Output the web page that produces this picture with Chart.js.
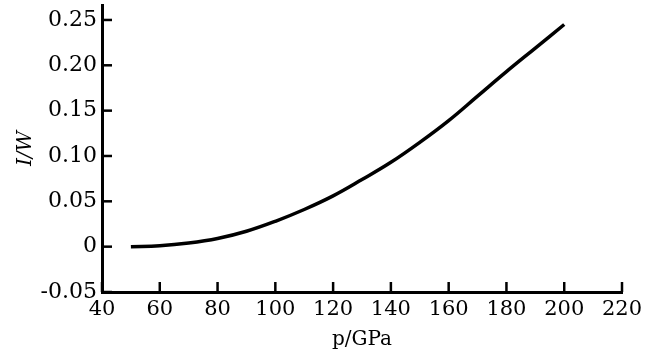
<!DOCTYPE html>
<html>
<head>
<meta charset="utf-8">
<script src="https://cdn.jsdelivr.net/npm/chart.js@4"></script>
<style>
  html, body { margin: 0; padding: 0; background: #fff; }
  #wrap { width: 655px; height: 356px; }
</style>
</head>
<body>
<div id="wrap"><canvas id="lineChart"></canvas></div>
<script>
// data
const pressure = [50, 60, 70, 80, 90, 100, 110, 120, 130, 140, 150, 160, 170, 180, 190, 200];
const intensity = [0, 0.001, 0.004, 0.009, 0.017, 0.028, 0.041, 0.056, 0.074, 0.093, 0.115, 0.139, 0.166, 0.193, 0.219, 0.245];
const xTicks = [40, 60, 80, 100, 120, 140, 160, 180, 200, 220];
const yTicks = [-0.05, 0, 0.05, 0.10, 0.15, 0.20, 0.25];
const yTickLabels = ["-0.05", "0", "0.05", "0.10", "0.15", "0.20", "0.25"];

const FONT = "'DejaVu Serif', 'Liberation Serif', serif";

// inward tick marks, placed through the scales
const innerTicks = {
  id: "innerTicks",
  afterDraw(chart) {
    const ctx = chart.ctx;
    const xs = chart.scales.x, ys = chart.scales.y;
    const area = chart.chartArea;
    ctx.save();
    ctx.strokeStyle = "#000";
    ctx.lineWidth = 2.5;
    for (const v of xTicks) {
      const px = xs.getPixelForValue(v);
      ctx.beginPath();
      ctx.moveTo(px, area.bottom);
      ctx.lineTo(px, area.bottom - 10);
      ctx.stroke();
    }
    for (const v of yTicks) {
      const py = ys.getPixelForValue(v);
      ctx.beginPath();
      ctx.moveTo(area.left, py);
      ctx.lineTo(area.left + 10, py);
      ctx.stroke();
    }
    ctx.restore();
  }
};

const line = document.getElementById("lineChart");

new Chart(line, {
  type: "line",
  data: {
    datasets: [{
      data: pressure.map((p, i) => ({ x: p, y: intensity[i] })),
      borderColor: "#000",
      borderWidth: 3.5,
      pointRadius: 0,
      fill: false,
      tension: 0.4
    }]
  },
  options: {
    responsive: true,
    maintainAspectRatio: false,
    animation: false,
    layout: { padding: { left: 10, right: 33, top: 5, bottom: 0 } },
    plugins: { legend: { display: false }, tooltip: { enabled: false } },
    scales: {
      x: {
        type: "linear",
        min: 40,
        max: 220,
        afterBuildTicks: s => { s.ticks = xTicks.map(v => ({ value: v })); },
        afterFit: s => { s.height = 64; },
        grid: { display: false, drawTicks: false },
        border: { color: "#000", width: 3 },
        ticks: {
          color: "#000",
          padding: 5,
          maxRotation: 0,
          font: { family: FONT, size: 21 }
        },
        title: {
          display: true,
          text: "p/GPa",
          color: "#000",
          font: { family: FONT, size: 20 },
          padding: { top: 0, bottom: 4 }
        }
      },
      y: {
        min: -0.05,
        max: 0.2665,
        afterBuildTicks: s => { s.ticks = yTicks.map(v => ({ value: v })); },
        afterFit: s => { s.width = 92; s.paddingTop = 0; s.paddingBottom = 0; },
        grid: { display: false, drawTicks: false },
        border: { color: "#000", width: 3 },
        ticks: {
          color: "#000",
          padding: 5,
          font: { family: FONT, size: 22 },
          callback: (v) => {
            const i = yTicks.findIndex(t => Math.abs(t - v) < 1e-9);
            return i >= 0 ? yTickLabels[i] : "";
          }
        },
        title: {
          display: true,
          text: "I/W",
          color: "#000",
          font: { family: FONT, size: 20, style: "italic" },
          padding: { top: 4, bottom: 0 }
        }
      }
    }
  },
  plugins: [innerTicks]
});
</script>
</body>
</html>
